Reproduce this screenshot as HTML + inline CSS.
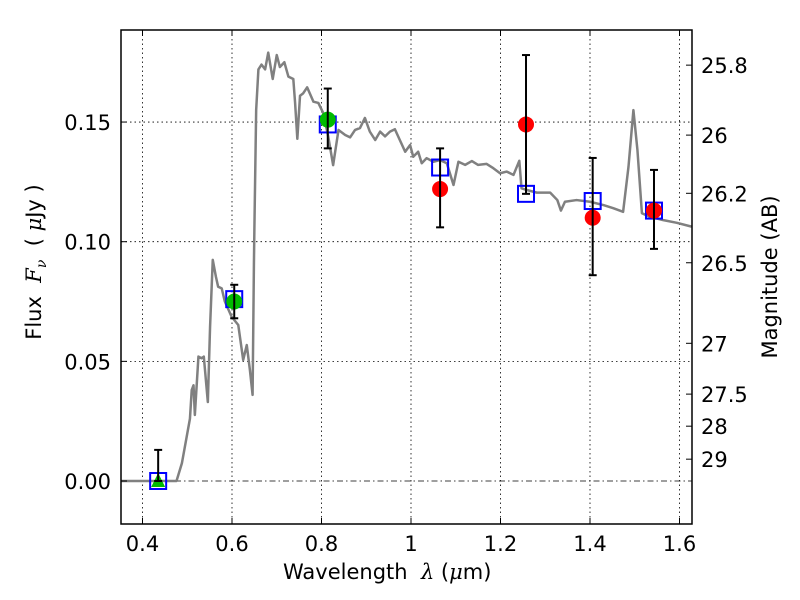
<!DOCTYPE html>
<html><head><meta charset="utf-8"><style>
body{margin:0;background:#fff;}
svg{display:block;font-family:"DejaVu Sans","Liberation Sans",sans-serif;}
</style></head><body>
<svg id="chart" width="800" height="600" viewBox="0 0 800 600"></svg>
<script>
const xTicks=[0.4,0.6,0.8,1.0,1.2,1.4,1.6];
const xTickLabels=["0.4","0.6","0.8","1","1.2","1.4","1.6"];
const yTicks=[0,0.05,0.10,0.15];
const yTickLabels=["0.00","0.05","0.10","0.15"];
const magTicks=[25.8,26,26.2,26.5,27,27.5,28,29];
const magTickLabels=["25.8","26","26.2","26.5","27","27.5","28","29"];
const specLam=[0.352,0.476,0.488,0.506,0.510,0.514,0.517,0.525,0.532,0.537,0.546,0.551,0.557,0.564,0.569,0.577,0.584,0.599,0.614,0.625,0.633,0.640,0.646,0.649,0.650,0.654,0.659,0.666,0.674,0.681,0.691,0.700,0.707,0.717,0.726,0.737,0.741,0.746,0.752,0.759,0.768,0.782,0.793,0.804,0.815,0.826,0.838,0.853,0.864,0.875,0.886,0.897,0.908,0.920,0.931,0.942,0.953,0.964,0.975,0.987,0.998,1.005,1.016,1.024,1.035,1.050,1.065,1.080,1.095,1.106,1.121,1.136,1.150,1.169,1.184,1.199,1.214,1.229,1.242,1.247,1.259,1.281,1.311,1.327,1.335,1.344,1.370,1.400,1.430,1.452,1.474,1.486,1.497,1.506,1.516,1.534,1.564,1.594,1.627];
const specFlux=[0,0,0.0074,0.026,0.038,0.040,0.0276,0.052,0.0513,0.052,0.033,0.0645,0.0924,0.0854,0.0812,0.0805,0.075,0.0687,0.0652,0.0506,0.0568,0.0464,0.036,0.091,0.105,0.155,0.172,0.174,0.172,0.179,0.168,0.178,0.173,0.175,0.169,0.168,0.158,0.143,0.161,0.162,0.1645,0.1585,0.158,0.1537,0.144,0.132,0.1467,0.1446,0.1436,0.1467,0.1475,0.1517,0.146,0.1425,0.146,0.144,0.146,0.147,0.1425,0.1376,0.1404,0.1355,0.1376,0.1328,0.1349,0.1334,0.1341,0.1328,0.1237,0.1334,0.1321,0.1337,0.1321,0.1325,0.1307,0.1286,0.1293,0.1279,0.1338,0.1223,0.1216,0.1205,0.1205,0.1174,0.113,0.1167,0.1174,0.1167,0.1153,0.114,0.1125,0.1313,0.155,0.1383,0.1119,0.1104,0.109,0.1079,0.1063];
const modelLam=[0.435,0.605,0.814,1.065,1.257,1.406,1.543];
const modelFlux=[0.0,0.076,0.149,0.131,0.120,0.117,0.113];
const obsLam=[0.435,0.605,0.814,1.065,1.257,1.406,1.543];
const obsFlux=[0.0,0.075,0.151,0.122,0.149,0.110,0.113];
const obsLow=[0.0,0.068,0.139,0.106,0.120,0.086,0.097];
const obsHigh=[0.013,0.082,0.164,0.139,0.178,0.135,0.130];
const obsColor=["#00bb00","#00bb00","#00bb00","#ff0000","#ff0000","#ff0000","#ff0000"];
const obsShape=["tri","circ","circ","circ","circ","circ","circ"];

const L=121,R=692,T=30,B=524;
const sx=l=>142.5+(l-0.4)*447.5;
const sy=f=>481-f*2393;
const NS="http://www.w3.org/2000/svg";
const svg=document.getElementById('chart');
function mk(tag,attrs,parent){const e=document.createElementNS(NS,tag);for(const k in attrs)e.setAttribute(k,attrs[k]);(parent||svg).appendChild(e);return e;}

const clip=mk('clipPath',{id:'pc'});mk('rect',{x:L,y:T,width:R-L,height:B-T},clip);
xTicks.forEach((t,i)=>{const g=mk('line',{x1:sx(t),x2:sx(t),y1:T,y2:B,stroke:'#000','stroke-width':0.8,'stroke-dasharray':'1.5,3'});

});
yTicks.forEach((t,i)=>{if(t===0)return;const g=mk('line',{x1:L,x2:R,y1:sy(t),y2:sy(t),stroke:'#000','stroke-width':0.8,'stroke-dasharray':'1.5,3'});

});
const zl=mk('line',{x1:L,x2:R,y1:sy(0),y2:sy(0),stroke:'#000','stroke-width':0.8,'stroke-dasharray':'6,3,1.5,3'});


const sp=mk('polyline',{points:specLam.map((l,i)=>sx(l)+','+sy(specFlux[i])).join(' '),fill:'none',stroke:'#808080','stroke-width':2.5,'stroke-linejoin':'round','clip-path':'url(#pc)'});


modelLam.forEach((l,i)=>{const s=mk('rect',{x:sx(l)-8,y:sy(modelFlux[i])-8,width:16,height:16,fill:'none',stroke:'#0000ff','stroke-width':2});

});
obsLam.forEach((l,i)=>{const x=sx(l),y=sy(obsFlux[i]);let m;
if(obsShape[i]==='tri'){m=mk('polygon',{points:`${x},${y-8} ${x-7},${y+6} ${x+7},${y+6}`,fill:obsColor[i]});}
else{m=mk('circle',{cx:x,cy:y,r:8,fill:obsColor[i]});}

});
obsLam.forEach((l,i)=>{const x=sx(l),y1=sy(obsLow[i]),y2=sy(obsHigh[i]);const g=mk('g',{stroke:'#000','stroke-width':2});


mk('line',{x1:x,x2:x,y1:y1,y2:y2},g);mk('line',{x1:x-4,x2:x+4,y1:y1,y2:y1},g);mk('line',{x1:x-4,x2:x+4,y1:y2,y2:y2},g);});
const fr=mk('rect',{x:L,y:T,width:R-L,height:B-T,fill:'none',stroke:'#000','stroke-width':1.5});


xTicks.forEach((t,i)=>{const x=sx(t);mk('line',{x1:x,x2:x,y1:B,y2:B-6,stroke:'#000'});mk('line',{x1:x,x2:x,y1:T,y2:T+6,stroke:'#000'});
const tx=mk('text',{x:x,y:B+27,'text-anchor':'middle','font-size':21});tx.textContent=xTickLabels[i];

});
yTicks.forEach((t,i)=>{const y=sy(t);mk('line',{x1:L,x2:L+6,y1:y,y2:y,stroke:'#000'});
const tx=mk('text',{x:L-10,y:y+8,'text-anchor':'end','font-size':21});tx.textContent=yTickLabels[i];

});
magTicks.forEach((m,i)=>{const y=sy(Math.pow(10,(23.9-m)/2.5));mk('line',{x1:R,x2:R-6,y1:y,y2:y,stroke:'#000'});
const tx=mk('text',{x:R+9,y:y+8,'font-size':21});tx.textContent=magTickLabels[i];

});
</script>
<div style="position:absolute;left:0;top:0;width:800px;height:600px;pointer-events:none;font-family:'DejaVu Sans','Liberation Sans',sans-serif;">
<div style="position:absolute;left:283px;top:560px;font-size:21px;white-space:nowrap;">Wavelength&nbsp; <i style="font-family:'DejaVu Serif',serif">λ</i> (<i style="font-family:'DejaVu Serif',serif">μ</i>m)</div>
<div style="position:absolute;left:36px;top:262px;font-size:21px;white-space:nowrap;transform:translate(-50%,-50%) rotate(-90deg);">Flux&nbsp; <i style="font-family:'DejaVu Serif',serif">F<sub style="font-size:14px">ν</sub></i>&nbsp; ( <i style="font-family:'DejaVu Serif',serif">μ</i>Jy )</div>
<div style="position:absolute;left:770px;top:277px;font-size:21px;white-space:nowrap;transform:translate(-50%,-50%) rotate(-90deg);">Magnitude (AB)</div>
</div>
</body></html>
